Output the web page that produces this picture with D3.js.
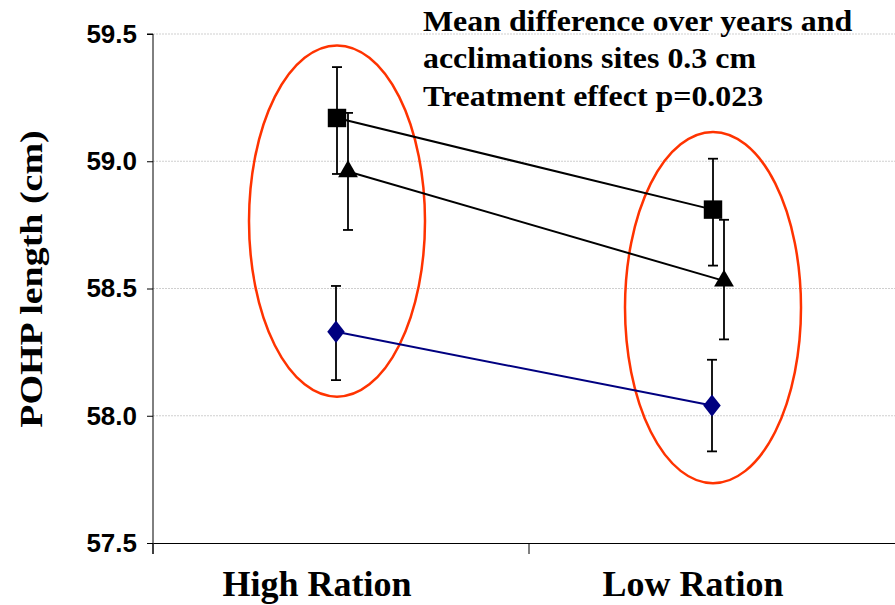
<!DOCTYPE html>
<html>
<head>
<meta charset="utf-8">
<script src="https://cdn.jsdelivr.net/npm/d3@7"></script>
<style>
  body { margin: 0; background: #fff; }
  svg { display: block; }
</style>
</head>
<body>
<script>
const width = 895;
const height = 605;

// data
const categories = ["High Ration", "Low Ration"];
const yTicks = [57.5, 58.0, 58.5, 59.0, 59.5];
const squareMean = [59.17, 58.81];
const squareUp = [59.37, 59.01];
const squareLow = [58.95, 58.59];
const triangleMean = [58.96, 58.53];
const triangleUp = [59.19, 58.77];
const triangleLow = [58.73, 58.30];
const diamondMean = [58.33, 58.04];
const diamondUp = [58.51, 58.22];
const diamondLow = [58.14, 57.86];
// ellipses round each group: centre and half-height in cm
const ringMid = [58.765, 58.425];
const ringHalf = [0.69, 0.69];
const noteLines = [
    "Mean difference over years and",
    "acclimations sites 0.3 cm",
    "Treatment effect p=0.023"
];

const series = [
    {name: "square", mean: squareMean, up: squareUp, low: squareLow, color: "#000", dx: -4},
    {name: "triangle", mean: triangleMean, up: triangleUp, low: triangleLow, color: "#000", dx: 7},
    {name: "diamond", mean: diamondMean, up: diamondUp, low: diamondLow, color: "#000080", dx: -5}
];

const margin = {left: 153, top: 34, bottom: 62};
const serif = "Liberation Serif, Times New Roman, serif";

let svg = d3.select("body").append("svg")
    .attr("width", width)
    .attr("height", height);

let x = d3.scaleBand()
    .domain(categories)
    .range([margin.left, 905])
    .padding(0);

let y = d3.scaleLinear()
    .domain([57.5, 59.5])
    .range([height - margin.bottom, margin.top]);

// grid
svg.append("g")
    .selectAll("line")
    .data(yTicks.slice(1))
    .enter()
    .append("line")
    .attr("x1", margin.left)
    .attr("x2", width)
    .attr("y1", d => y(d))
    .attr("y2", d => y(d))
    .attr("stroke", "#cfcfcf")
    .attr("stroke-width", 1)
    .attr("stroke-dasharray", "2,1");

// y axis
let yAxis = svg.append("g")
    .attr("transform", "translate(" + margin.left + ",0)")
    .call(d3.axisLeft(y).tickValues(yTicks).tickFormat(d3.format(".1f")).tickSize(6).tickPadding(10));
yAxis.select(".domain").attr("d", "M-6," + y(59.5) + "H0V" + (y(57.5) + 11));
yAxis.selectAll("text")
    .attr("font-family", "Liberation Sans, Arial, sans-serif")
    .attr("font-weight", "bold")
    .attr("font-size", 26)
    .attr("fill", "#000");

// x axis
let xAxis = svg.append("g")
    .attr("transform", "translate(0," + y(57.5) + ")")
    .call(d3.axisBottom(x).tickValues([]).tickSizeOuter(0));
xAxis.select(".domain").attr("stroke", "#000");
xAxis.selectAll(".sep")
    .data([margin.left, x(categories[1])])
    .enter()
    .append("line")
    .attr("x1", d => d)
    .attr("x2", d => d)
    .attr("y1", 0)
    .attr("y2", 11)
    .attr("stroke", "#000");

svg.append("g")
    .selectAll("text")
    .data(categories)
    .enter()
    .append("text")
    .attr("x", d => x(d) + x.bandwidth() / 2 - 24)
    .attr("y", 596)
    .attr("text-anchor", "middle")
    .attr("font-family", serif)
    .attr("font-weight", "bold")
    .attr("font-size", 36)
    .text(d => d);

// y title
svg.append("text")
    .attr("transform", "translate(42,279) rotate(-90) scale(1,0.85)")
    .attr("text-anchor", "middle")
    .attr("font-family", serif)
    .attr("font-weight", "bold")
    .attr("font-size", 38)
    .text("POHP length (cm)");

// note
svg.append("g")
    .attr("transform", "translate(423,0) scale(1.1,1)")
    .selectAll("text")
    .data(noteLines)
    .enter()
    .append("text")
    .attr("x", 0)
    .attr("y", (d, i) => 31 + i * 37.5)
    .attr("font-family", serif)
    .attr("font-weight", "bold")
    .attr("font-size", 29)
    .text(d => d);

// ellipses
svg.append("g")
    .selectAll("ellipse")
    .data(categories)
    .enter()
    .append("ellipse")
    .attr("cx", (d, i) => x(d) + x.bandwidth() / 2 - 4)
    .attr("cy", (d, i) => y(ringMid[i]))
    .attr("rx", 88)
    .attr("ry", (d, i) => y(ringMid[i] - ringHalf[i]) - y(ringMid[i]))
    .attr("fill", "none")
    .attr("stroke", "#ff3300")
    .attr("stroke-width", 2.5);

const cx = (s, i) => x(categories[i]) + x.bandwidth() / 2 + s.dx;

// lines
let line = d3.line()
    .x(d => d[0])
    .y(d => d[1]);

series.forEach(s => {
    let pts = s.mean.map((v, i) => [cx(s, i), y(v)]);
    svg.append("path")
        .attr("d", line(pts))
        .attr("fill", "none")
        .attr("stroke", s.color)
        .attr("stroke-width", 2);
});

// error bars
series.forEach(s => {
    let g = svg.append("g").attr("stroke", "#000").attr("stroke-width", 1.8);
    s.mean.forEach((v, i) => {
        let px = cx(s, i);
        g.append("line").attr("x1", px).attr("x2", px).attr("y1", y(s.up[i])).attr("y2", y(s.low[i]));
        g.append("line").attr("x1", px - 5).attr("x2", px + 5).attr("y1", y(s.up[i])).attr("y2", y(s.up[i]));
        g.append("line").attr("x1", px - 5).attr("x2", px + 5).attr("y1", y(s.low[i])).attr("y2", y(s.low[i]));
    });
});

// markers
const symbolType = {square: d3.symbolSquare, triangle: d3.symbolTriangle, diamond: d3.symbolDiamond};
const symbolSize = {square: 340, triangle: 170, diamond: 200};
series.forEach(s => {
    svg.append("g")
        .selectAll("path")
        .data(s.mean)
        .enter()
        .append("path")
        .attr("transform", (v, i) => "translate(" + cx(s, i) + "," + y(v) + ")" + (s.name === "diamond" ? "scale(1.15,0.85)" : ""))
        .attr("d", d3.symbol().type(symbolType[s.name]).size(symbolSize[s.name]))
        .attr("fill", s.color);
});
</script>
</body>
</html>
